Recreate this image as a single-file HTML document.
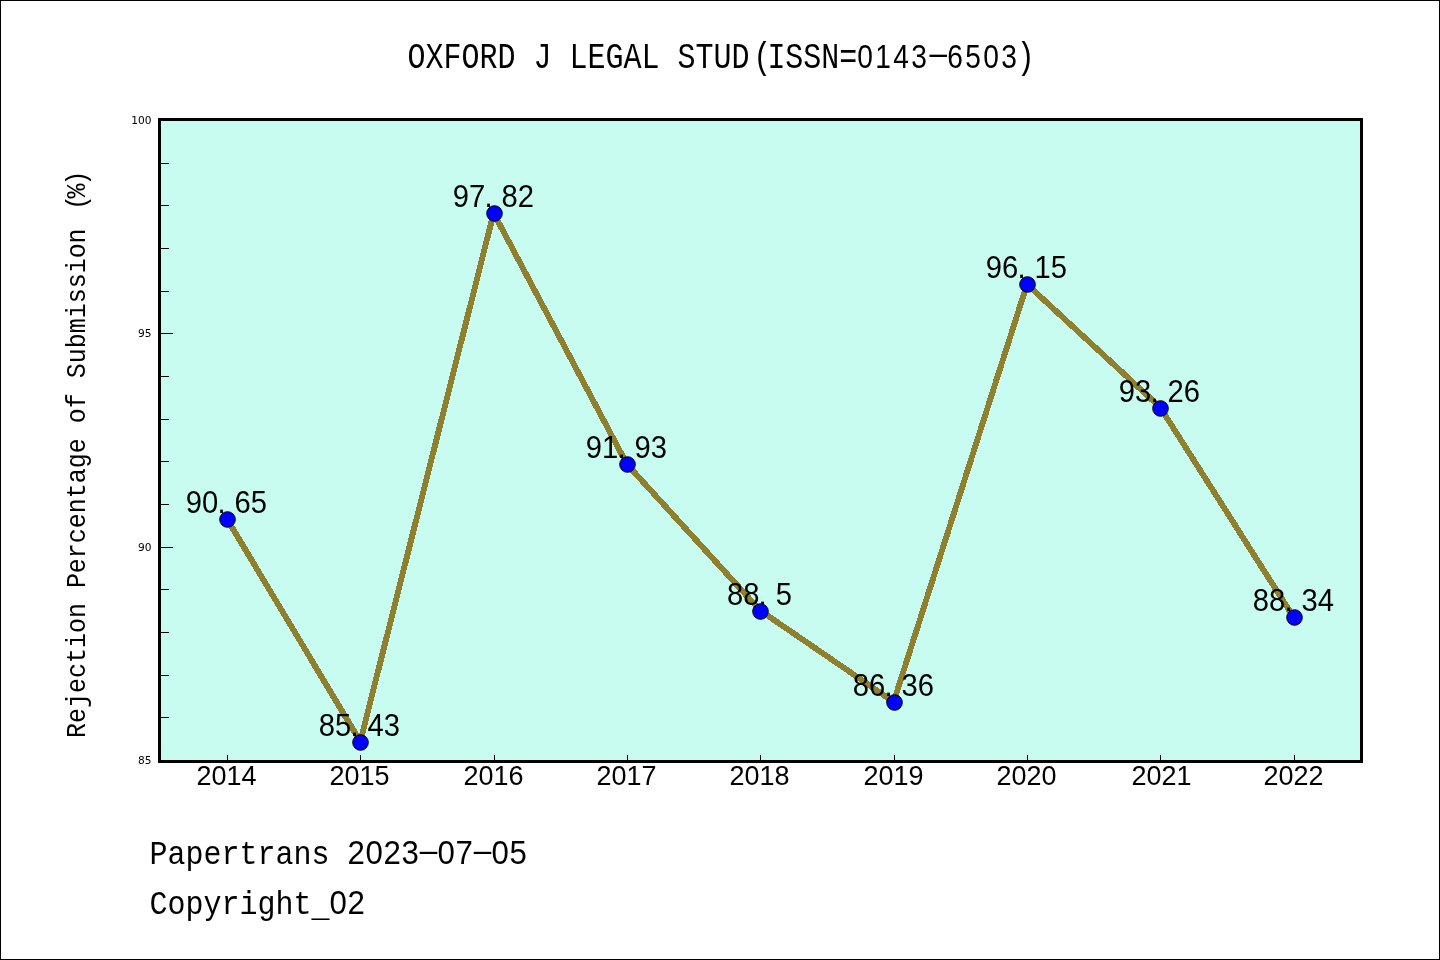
<!DOCTYPE html>
<html lang="en">
<head>
<meta charset="utf-8">
<title>OXFORD J LEGAL STUD (ISSN=0143-6503)</title>
<style>
html,body{margin:0;padding:0;background:#fff;}
body{width:1440px;height:960px;overflow:hidden;}
svg{display:block;}
.m{font-family:'Liberation Mono', 'DejaVu Sans Mono', monospace;fill:#000;white-space:pre;}
.d,.n,.h{font-family:'Liberation Sans', 'DejaVu Sans', sans-serif;fill:#000;}
.s{font-family:'DejaVu Sans', 'Liberation Sans', sans-serif;fill:#000;font-size:10.6px;}
</style>
</head>
<body>
<svg width="1440" height="960" viewBox="0 0 1440 960">

<rect x="0" y="0" width="1440" height="960" fill="#fff"/>
<rect x="0.5" y="0.5" width="1439" height="959" fill="none" stroke="#000" stroke-width="1"/>
<rect x="159.5" y="119.5" width="1202" height="642" fill="#c8fcf0"/>
<g stroke="#000" stroke-width="1" shape-rendering="crispEdges">
<line x1="160" y1="760.5" x2="173" y2="760.5"/>
<line x1="160" y1="717.5" x2="169" y2="717.5"/>
<line x1="160" y1="675.5" x2="169" y2="675.5"/>
<line x1="160" y1="632.5" x2="169" y2="632.5"/>
<line x1="160" y1="589.5" x2="169" y2="589.5"/>
<line x1="160" y1="547.5" x2="173" y2="547.5"/>
<line x1="160" y1="504.5" x2="169" y2="504.5"/>
<line x1="160" y1="461.5" x2="169" y2="461.5"/>
<line x1="160" y1="419.5" x2="169" y2="419.5"/>
<line x1="160" y1="376.5" x2="169" y2="376.5"/>
<line x1="160" y1="333.5" x2="173" y2="333.5"/>
<line x1="160" y1="291.5" x2="169" y2="291.5"/>
<line x1="160" y1="248.5" x2="169" y2="248.5"/>
<line x1="160" y1="205.5" x2="169" y2="205.5"/>
<line x1="160" y1="163.5" x2="169" y2="163.5"/>
<line x1="160" y1="120.5" x2="173" y2="120.5"/>
<line x1="227.5" y1="755" x2="227.5" y2="761"/>
<line x1="360.5" y1="755" x2="360.5" y2="761"/>
<line x1="494.5" y1="755" x2="494.5" y2="761"/>
<line x1="627.5" y1="755" x2="627.5" y2="761"/>
<line x1="760.5" y1="755" x2="760.5" y2="761"/>
<line x1="894.5" y1="755" x2="894.5" y2="761"/>
<line x1="1027.5" y1="755" x2="1027.5" y2="761"/>
<line x1="1160.5" y1="755" x2="1160.5" y2="761"/>
<line x1="1294.5" y1="755" x2="1294.5" y2="761"/>
</g>
<polyline points="226.96,518.90 360.30,741.57 493.64,213.06 626.99,464.30 760.33,610.61 893.67,701.90 1027.01,284.30 1160.35,407.57 1293.70,617.44" fill="none" stroke="#8f8030" stroke-width="5.9" stroke-linejoin="round" stroke-linecap="butt" shape-rendering="crispEdges"/>
<text transform="translate(226.40,513.20) scale(1,1.045)" font-size="29.216" class="n"><tspan x="-40.62">90</tspan><tspan x="-8.93">.</tspan><tspan x="8.12">65</tspan></text>
<text transform="translate(359.40,736.20) scale(1,1.045)" font-size="29.216" class="n"><tspan x="-40.62">85</tspan><tspan x="-8.93">.</tspan><tspan x="8.12">43</tspan></text>
<text transform="translate(493.40,207.20) scale(1,1.045)" font-size="29.216" class="n"><tspan x="-40.62">97</tspan><tspan x="-8.93">.</tspan><tspan x="8.12">82</tspan></text>
<text transform="translate(626.40,458.20) scale(1,1.045)" font-size="29.216" class="n"><tspan x="-40.62">91</tspan><tspan x="-8.93">.</tspan><tspan x="8.12">93</tspan></text>
<text transform="translate(759.40,605.20) scale(1,1.045)" font-size="29.216" class="n"><tspan x="-32.50">88</tspan><tspan x="-0.80">.</tspan><tspan x="16.25">5</tspan></text>
<text transform="translate(893.40,696.20) scale(1,1.045)" font-size="29.216" class="n"><tspan x="-40.62">86</tspan><tspan x="-8.93">.</tspan><tspan x="8.12">36</tspan></text>
<text transform="translate(1026.40,278.20) scale(1,1.045)" font-size="29.216" class="n"><tspan x="-40.62">96</tspan><tspan x="-8.93">.</tspan><tspan x="8.12">15</tspan></text>
<text transform="translate(1159.40,402.20) scale(1,1.045)" font-size="29.216" class="n"><tspan x="-40.62">93</tspan><tspan x="-8.93">.</tspan><tspan x="8.12">26</tspan></text>
<text transform="translate(1293.40,611.20) scale(1,1.045)" font-size="29.216" class="n"><tspan x="-40.62">88</tspan><tspan x="-8.93">.</tspan><tspan x="8.12">34</tspan></text>
<circle cx="227.5" cy="519.5" r="7.8" fill="#0000ff" stroke="#000" stroke-width="1"/>
<circle cx="360.5" cy="742.5" r="7.8" fill="#0000ff" stroke="#000" stroke-width="1"/>
<circle cx="494.5" cy="213.5" r="7.8" fill="#0000ff" stroke="#000" stroke-width="1"/>
<circle cx="627.5" cy="464.5" r="7.8" fill="#0000ff" stroke="#000" stroke-width="1"/>
<circle cx="760.5" cy="611.5" r="7.8" fill="#0000ff" stroke="#000" stroke-width="1"/>
<circle cx="894.5" cy="702.5" r="7.8" fill="#0000ff" stroke="#000" stroke-width="1"/>
<circle cx="1027.5" cy="284.5" r="7.8" fill="#0000ff" stroke="#000" stroke-width="1"/>
<circle cx="1160.5" cy="408.5" r="7.8" fill="#0000ff" stroke="#000" stroke-width="1"/>
<circle cx="1294.5" cy="617.5" r="7.8" fill="#0000ff" stroke="#000" stroke-width="1"/>
<rect x="159.5" y="119.5" width="1202" height="642" fill="none" stroke="#000" stroke-width="3"/>
<text transform="translate(226.50,785.40) scale(1,1.04)" font-size="26.969" class="n"><tspan x="-30.00">2014</tspan></text>
<text transform="translate(359.50,785.40) scale(1,1.04)" font-size="26.969" class="n"><tspan x="-30.00">2015</tspan></text>
<text transform="translate(493.50,785.40) scale(1,1.04)" font-size="26.969" class="n"><tspan x="-30.00">2016</tspan></text>
<text transform="translate(626.50,785.40) scale(1,1.04)" font-size="26.969" class="n"><tspan x="-30.00">2017</tspan></text>
<text transform="translate(759.50,785.40) scale(1,1.04)" font-size="26.969" class="n"><tspan x="-30.00">2018</tspan></text>
<text transform="translate(893.50,785.40) scale(1,1.04)" font-size="26.969" class="n"><tspan x="-30.00">2019</tspan></text>
<text transform="translate(1026.50,785.40) scale(1,1.04)" font-size="26.969" class="n"><tspan x="-30.00">2020</tspan></text>
<text transform="translate(1161.60,785.40) scale(1,1.04)" font-size="26.969" class="n"><tspan x="-30.00">2021</tspan></text>
<text transform="translate(1293.50,785.40) scale(1,1.04)" font-size="26.969" class="n"><tspan x="-30.00">2022</tspan></text>
<text x="151.4" y="763.83" text-anchor="end" class="s">85</text>
<text x="151.4" y="550.60" text-anchor="end" class="s">90</text>
<text x="151.4" y="337.36" text-anchor="end" class="s">95</text>
<text x="151.4" y="124.13" text-anchor="end" class="s">100</text>
<text transform="translate(407.50,67.60) scale(1,1.21)" font-size="30.000" class="m" xml:space="preserve">OXFORD J LEGAL STUD<tspan dx="4.00">(</tspan><tspan dx="-4.00">ISSN=</tspan><tspan class="d" style="font-size:28.13px;letter-spacing:2.35px">0143</tspan><tspan class="h" dx="-3.00" dy="-2.86" textLength="24.00" lengthAdjust="spacingAndGlyphs" style="font-size:25.00px">-</tspan><tspan class="d" dx="-3.00" dy="2.86" style="font-size:28.13px;letter-spacing:2.35px">6503</tspan><tspan dx="-2.50">)</tspan></text>
<text transform="translate(85.00,738.00) rotate(-90) scale(1,1.09)" font-size="25.000" class="m" xml:space="preserve">Rejection Percentage of Submission <tspan dx="3.33">(</tspan><tspan dx="-3.33">%</tspan><tspan dx="-2.08">)</tspan></text>
<text transform="translate(149.50,864.20) scale(1,1.09)" font-size="30.000" class="m" xml:space="preserve">Papertrans <tspan class="d" style="font-size:31.23px;letter-spacing:0.63px">2023</tspan><tspan class="h" dx="-3.00" dy="-3.91" textLength="24.00" lengthAdjust="spacingAndGlyphs" style="font-size:25.00px">-</tspan><tspan class="d" dx="-3.00" dy="3.91" style="font-size:31.23px;letter-spacing:0.63px">07</tspan><tspan class="h" dx="-3.00" dy="-3.91" textLength="24.00" lengthAdjust="spacingAndGlyphs" style="font-size:25.00px">-</tspan><tspan class="d" dx="-3.00" dy="3.91" style="font-size:31.23px;letter-spacing:0.63px">05</tspan></text>
<text transform="translate(149.50,913.90) scale(1,1.09)" font-size="30.000" class="m" xml:space="preserve">Copyright<tspan dy="1.60">_</tspan><tspan class="d" dy="-1.60" style="font-size:31.23px;letter-spacing:0.63px">02</tspan></text>
</svg>
</body>
</html>
